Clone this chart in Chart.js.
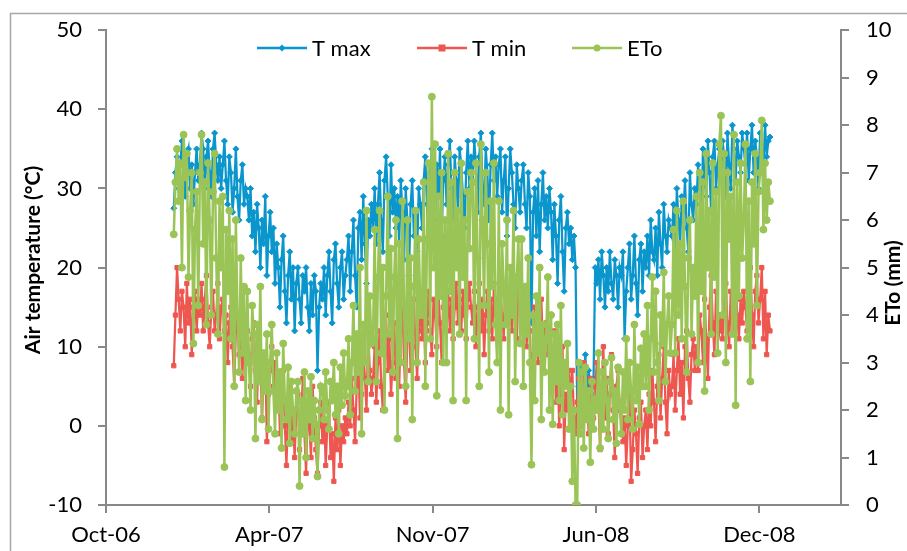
<!DOCTYPE html>
<html><head><meta charset="utf-8">
<script src="https://cdn.jsdelivr.net/npm/chart.js@4"></script>
<style>html,body{margin:0;padding:0;background:#fff;} #wrap{width:907px;height:551px;position:relative;}</style>
</head><body><div id="wrap"><canvas id="c" width="907" height="551"></canvas></div>
<script>
// Dates: Excel serial numbers; first sample 1 Jan 2007, one sample every 2 days (one row per month below)
const startSerial = 39083;
const stepDays = 2;
const seriesNames = ['T max', 'T min', 'ETo'];
const xTickValues = [39000, 39200, 39400, 39600, 39800];
const xTickLabels = ['Oct-06', 'Apr-07', 'Nov-07', 'Jun-08', 'Dec-08'];

const tmax = [
 27.5,32,34,30,33,36,31,29,34,35,30,33,28,32,35,31,
 33,37,35,30,34,36,32,29,35,37,33,31,34,30,
 33,36,31,28,34,32,27,30,35,29,26,31,33,28,30,
 29,26,30,24,27,22,28,25,20,26,23,29,19,24,27,
 22,25,18,23,20,15,21,24,17,13,19,22,16,20,12,18,
 20,16,13,19,17,20,15,12,18,14,19,17,7,15,18,
 16,20,14,19,22,17,13,21,23,18,15,20,22,16,19,
 21,24,17,22,26,19,15,25,27,21,29,23,18,26,24,28,
 25,30,23,28,32,26,22,31,34,29,24,33,27,30,25,
 29,23,31,27,21,30,26,19,28,31,24,27,22,30,28,
 25,31,34,28,23,32,35,30,26,33,29,35,24,31,34,
 28,33,36,30,26,34,31,27,35,33,29,25,32,36,30,34,
 31,36,33,27,34,37,30,28,35,32,26,33,37,31,34,
 29,33,35,27,31,34,24,30,35,32,28,25,33,30,27,
 31,33,28,25,32,29,13,27,30,24,31,22,28,32,26,
 29,25,30,27,21,28,24,18,26,29,22,17,25,27,23,
 25,21,24,20,2,5,8,4,6,9,3,7,5,4,6,20,
 18,21,16,22,19,15,20,17,22,18,16,21,19,15,20,
 19,22,11,17,20,23,16,19,24,18,14,21,23,17,22,
 20,24,19,26,22,21,25,19,27,23,20,28,24,22,26,25,
 24,28,22,30,26,23,29,27,31,25,22,32,28,26,30,
 28,33,30,26,35,31,29,36,32,27,34,36,30,33,35,
 31,36,34,29,37,33,30,38,35,31,36,34,32,37,35,
 33,37,31,35,38,32,36,34,30,37,35,33,38,34,36,36.5
];
const tmin = [
 7.6,14,20,16,12,17,15,10,18,13,16,9,15,17,12,16,
 14,18,12,16,19,13,10,15,17,12,14,18,11,15,
 16,12,14,8,13,15,10,5,12,14,9,11,6,13,8,
 12,9,5,11,13,7,3,10,8,1,6,9,-2,4,7,
 10,5,8,2,6,-1,4,7,0,-5,3,5,-2,1,-4,2,
 4,-3,1,6,-1,-6,2,0,-4,5,1,-3,-6,0,3,
 -2,2,-5,0,3,-4,-1,-7,1,-3,2,-5,0,-2,1,
 -1,3,0,6,2,-2,5,8,1,4,10,6,2,12,7,4,
 6,10,3,8,12,5,2,9,14,7,11,4,8,13,6,
 9,5,12,15,8,3,11,14,7,13,16,10,6,12,15,
 11,15,8,13,17,12,9,16,14,10,17,13,8,15,12,
 14,17,12,16,11,15,18,13,16,12,17,14,11,16,18,15,
 13,17,10,15,18,12,16,9,14,17,12,16,11,18,14,
 16,12,17,14,11,18,15,13,17,12,16,14,11,17,15,
 16,13,17,10,14,12,5,9,15,11,8,13,16,10,12,
 13,9,11,5,8,12,3,7,0,6,10,-3,4,2,7,
 4,7,1,-1,3,6,0,5,8,2,4,-1,6,3,1,5,
 8,3,-3,5,10,1,6,-1,4,9,2,-4,5,7,2,
 3,-2,1,-5,0,4,-7,-3,2,-1,-6,1,3,-4,0,
 2,-3,4,0,7,3,-2,5,9,1,6,10,3,-1,7,4,
 5,9,2,7,11,4,8,1,10,12,6,3,9,11,7,
 10,7,14,12,8,16,11,6,15,19,13,9,17,14,12,
 14,11,16,18,13,10,17,15,12,18,14,11,16,13,17,
 15,12,18,20,14,10,17,19,13,16,20,11,17,9,14,12
];
const eto = [
 5.7,6.8,7.5,6.4,7.2,5.0,7.8,6.9,7.4,4.8,6.2,7.0,3.4,5.8,6.6,4.2,
 7.0,7.8,5.5,6.8,3.8,7.2,6.0,4.0,6.6,7.4,5.2,3.6,6.4,5.0,
 6.5,0.8,5.8,4.5,6.2,3.5,5.6,2.5,6.0,4.0,2.8,5.2,3.2,4.6,2.2,
 4.5,3.0,2.0,4.2,3.6,1.4,3.8,2.6,4.6,1.8,3.2,2.4,3.6,1.6,3.0,
 3.8,2.4,1.5,3.2,2.0,2.8,1.2,3.4,2.2,1.8,2.9,1.3,2.6,2.0,1.5,2.4,
 2.6,0.4,2.2,1.5,2.8,1.0,2.4,1.8,2.7,1.4,2.2,1.7,0.6,2.0,2.5,
 2.4,1.8,2.8,2.0,1.6,2.6,2.2,3.0,1.9,2.5,1.5,2.9,2.1,3.2,2.3,
 2.5,3.5,1.9,3.0,4.2,2.4,3.6,2.8,5.0,1.5,3.8,3.0,6.2,2.6,4.4,3.4,
 3.5,5.8,2.6,4.8,6.2,3.2,5.0,2.0,4.4,6.5,3.6,5.4,2.8,4.8,6.0,
 1.4,5.5,3.0,6.4,4.2,2.5,6.0,3.5,5.2,1.8,4.6,6.2,3.0,5.6,4.0,
 4.0,6.8,2.5,5.6,7.2,3.5,8.6,5.0,7.6,2.3,6.5,4.4,7.0,3.0,6.0,
 3.0,7.4,4.5,6.8,2.2,7.0,5.0,6.2,3.6,7.2,4.8,6.0,2.2,6.6,5.4,7.0,
 6.8,3.5,7.2,5.2,2.5,7.6,6.0,4.2,7.0,5.5,2.8,6.4,4.6,7.2,3.8,
 3.0,6.4,2.0,5.5,4.6,3.8,6.0,1.9,5.0,4.0,6.2,2.6,4.8,5.6,3.4,
 5.6,2.5,4.6,3.6,5.2,3.0,0.85,4.0,2.2,4.4,3.2,5.0,1.8,3.8,2.8,
 3.5,4.8,2.0,4.0,1.7,3.6,2.6,3.8,2.2,4.2,1.9,3.0,2.5,3.4,1.6,
 2.5,0.5,2.0,0,0,3.0,1.5,2.8,1.2,2.9,1.8,2.4,0.9,2.6,1.6,2.2,
 2.0,3.2,1.2,2.8,1.6,3.0,2.2,1.4,2.6,3.1,1.8,2.4,1.3,2.9,2.1,
 1.5,2.8,2.0,3.5,1.8,3.0,2.4,1.6,3.8,2.2,2.9,1.7,3.3,2.5,3.6,
 2.5,4.2,2.0,3.5,4.8,2.8,4.5,3.0,2.2,4.0,3.4,4.9,2.6,3.8,4.4,3.2,
 3.8,5.8,3.2,6.2,4.0,5.5,3.5,6.4,4.6,2.8,5.2,6.0,3.6,5.0,4.4,
 6.5,3.0,7.0,4.5,6.8,2.4,7.4,5.0,6.2,3.6,7.2,4.8,6.6,3.2,7.6,
 8.2,4.0,7.4,3.0,7.0,5.6,6.5,3.6,7.8,2.1,6.8,4.4,7.2,5.2,6.0,
 7.6,3.5,6.4,2.6,6.8,5.5,7.4,4.2,6.6,7.0,8.1,5.8,7.2,6.0,6.8,6.4
];

const COL_MAX = '#0A96CD', COL_MIN = '#EE5650', COL_ETO = '#9BC457';
const AXIS = '#888888';
const FONT = 'Lato';

const pts = arr => arr.map((v, i) => ({ x: startSerial + i * stepDays, y: v }));

const overlay = {
  id: 'overlay',
  afterDraw(chart) {
    const ctx = chart.ctx;
    ctx.save();
    // chart frame
    ctx.strokeStyle = '#A8A8A8'; ctx.lineWidth = 1.5;
    ctx.strokeRect(10.5, 13.5, 1000, 1000);
    // axis titles
    ctx.fillStyle = '#000';
    ctx.font = 'bold 21px ' + FONT;
    ctx.textAlign = 'center'; ctx.textBaseline = 'middle';
    ctx.save(); ctx.translate(33, 260); ctx.rotate(-Math.PI / 2); ctx.fillText('Air temperature (°C)', 0, 0); ctx.restore();
    ctx.save(); ctx.translate(893, 283); ctx.rotate(-Math.PI / 2); ctx.fillText('ETo (mm)', 0, 0); ctx.restore();
    // legend
    const items = [
      { x: 257, c: COL_MAX, s: 'diamond' },
      { x: 417, c: COL_MIN, s: 'square' },
      { x: 572, c: COL_ETO, s: 'circle' }
    ];
    const ly = 48;
    ctx.font = '22px ' + FONT; ctx.textAlign = 'left';
    items.forEach((it, k) => {
      ctx.strokeStyle = it.c; ctx.lineWidth = 2.5;
      ctx.beginPath(); ctx.moveTo(it.x, ly); ctx.lineTo(it.x + 50, ly); ctx.stroke();
      ctx.fillStyle = it.c;
      const mx = it.x + 25;
      ctx.beginPath();
      if (it.s === 'diamond') { ctx.moveTo(mx, ly - 3.5); ctx.lineTo(mx + 3.5, ly); ctx.lineTo(mx, ly + 3.5); ctx.lineTo(mx - 3.5, ly); ctx.closePath(); }
      else if (it.s === 'square') { ctx.rect(mx - 3.5, ly - 3.5, 7, 7); }
      else { ctx.arc(mx, ly, 3.5, 0, Math.PI * 2); }
      ctx.fill();
      ctx.fillStyle = '#000';
      ctx.fillText(seriesNames[k], it.x + 55, ly + 1);
    });
    ctx.restore();
  }
};

new Chart(document.getElementById('c'), {
  type: 'line',
  data: {
    datasets: [
      { label: seriesNames[0], data: pts(tmax), yAxisID: 'y', borderColor: COL_MAX, backgroundColor: COL_MAX,
        borderWidth: 2.25, pointStyle: 'rectRot', pointRadius: 3, pointBorderWidth: 1, order: 3, tension: 0 },
      { label: seriesNames[1], data: pts(tmin), yAxisID: 'y', borderColor: COL_MIN, backgroundColor: COL_MIN,
        borderWidth: 2.25, pointStyle: 'rect', pointRadius: 3, pointBorderWidth: 1, order: 2, tension: 0 },
      { label: seriesNames[2], data: pts(eto), yAxisID: 'y2', borderColor: COL_ETO, backgroundColor: COL_ETO,
        borderWidth: 2.5, pointStyle: 'circle', pointRadius: 3.5, pointBorderWidth: 1, order: 1, tension: 0 }
    ]
  },
  options: {
    responsive: false, animation: false, devicePixelRatio: 1,
    layout: { padding: { top: 28, left: 0, right: 0, bottom: 0 } },
    plugins: { legend: { display: false }, tooltip: { enabled: false } },
    scales: {
      x: {
        type: 'linear', min: 39000, max: 39900,
        afterBuildTicks: s => { s.ticks = xTickValues.map(v => ({ value: v })); },
        afterFit: s => { s.height = 46; },
        ticks: { callback: (v, i) => xTickLabels[i], font: { family: FONT, size: 22 }, color: '#000', padding: 9, maxRotation: 0, autoSkip: false },
        grid: { drawOnChartArea: false, tickLength: 8, color: AXIS, lineWidth: 2 },
        border: { color: AXIS, width: 2 }
      },
      y: {
        position: 'left', min: -10, max: 50,
        afterFit: s => { s.width = 106; },
        ticks: { stepSize: 10, font: { family: FONT, size: 22 }, color: '#000', padding: 16 },
        grid: { drawOnChartArea: false, tickLength: 8, color: AXIS, lineWidth: 2 },
        border: { color: AXIS, width: 2 }
      },
      y2: {
        position: 'right', min: 0, max: 10,
        afterFit: s => { s.width = 66; },
        ticks: { stepSize: 1, font: { family: FONT, size: 22 }, color: '#000', padding: 17 },
        grid: { drawOnChartArea: false, tickLength: 8, color: AXIS, lineWidth: 2 },
        border: { color: AXIS, width: 2 }
      }
    }
  },
  plugins: [overlay]
});
</script></body></html>
